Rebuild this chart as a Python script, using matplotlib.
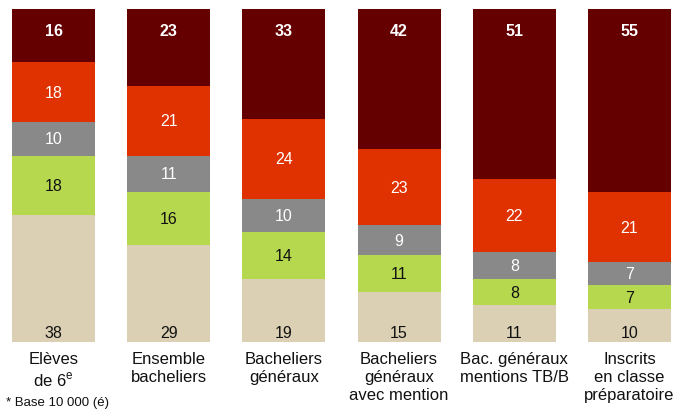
import numpy as np
import matplotlib.pyplot as plt

categories = ['Elèves\nde 6$^{\\mathregular{e}}$', 'Ensemble\nbacheliers', 'Bacheliers\ngénéraux',
              'Bacheliers\ngénéraux\navec mention', 'Bac. généraux\nmentions TB/B',
              'Inscrits\nen classe\npréparatoire']
beige = [38, 29, 19, 15, 11, 10]
green = [18, 16, 14, 11, 8, 7]
grey = [10, 11, 10, 9, 8, 7]
red = [18, 21, 24, 23, 22, 21]
darkred = [16, 23, 33, 42, 51, 55]

series = [beige, green, grey, red, darkred]
colors = ['#dbd0b4', '#b5d84f', '#898989', '#e03200', '#640000']
text_colors = ['#111111', '#111111', 'white', 'white', 'white']

plt.rcParams['font.family'] = ['Liberation Sans Narrow', 'Liberation Sans', 'DejaVu Sans']

fig = plt.figure(figsize=(6.79, 4.10), dpi=100)
ax = fig.add_axes([12 / 679, 1 - 343 / 410, 659 / 679, 333 / 410])

x = np.arange(len(categories))
width = 0.722
bottom = np.zeros(len(categories))
for i, (vals, col, tc) in enumerate(zip(series, colors, text_colors)):
    vals = np.array(vals)
    ax.bar(x, vals, width, bottom=bottom, color=col, edgecolor='none')
    for j, v in enumerate(vals):
        if i == 0:
            y = bottom[j] + 3
        elif i == len(series) - 1:
            y = 100 - 6.5
        else:
            y = bottom[j] + v / 2
        ax.text(x[j], y, str(v), ha='center', va='center', color=tc, fontsize=11.5,
                fontweight='bold' if i == len(series) - 1 else 'normal')
    bottom += vals

ax.set_xlim(-width / 2, len(categories) - 1 + width / 2)
ax.set_ylim(0, 100)
ax.axis('off')

for j, lab in enumerate(categories):
    ax.text(x[j], -2.7, lab, ha='center', va='top', fontsize=12,
            color='#111111', linespacing=1.25)

fig.text(6 / 679, 1 / 410, '* Base 10 000 (é)', fontsize=9.5, color='#111111',
         va='bottom')

fig.savefig('out.png', dpi=100)
